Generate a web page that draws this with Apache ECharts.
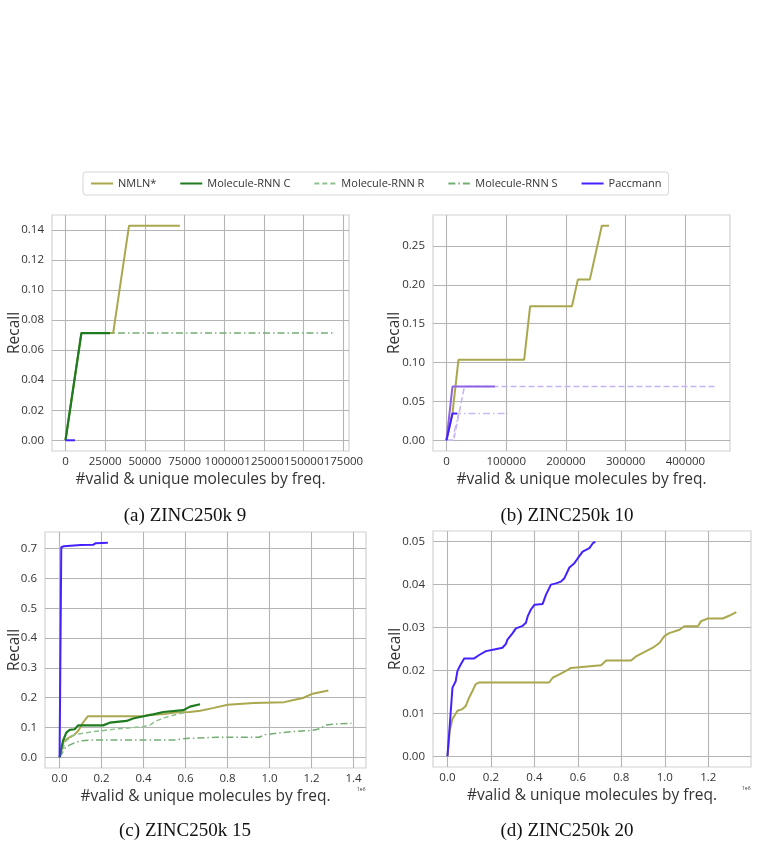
<!DOCTYPE html>
<html>
<head>
<meta charset="utf-8">
<script src="https://cdn.jsdelivr.net/npm/echarts@6/dist/echarts.min.js"></script>
<style>
html,body{margin:0;padding:0;background:#fff;}
#main{width:758px;height:846px;}
</style>
</head>
<body>
<div id="main"></div>
<script>
// legend names
var names = ['NMLN*', 'Molecule-RNN C', 'Molecule-RNN R', 'Molecule-RNN S', 'Paccmann'];

// (a) ZINC250k 9
var a_nmln = [[0,0],[10000,0.0714],[30000,0.0714],[40000,0.1429],[72000,0.1429]];
var a_rnnR = [[0,0],[10000,0.0714],[25000,0.0714]];
var a_rnnS = [[0,0],[10000,0.0714],[170000,0.0714]];
var a_rnnC = [[0,0],[10000,0.0714],[28000,0.0714]];
var a_pacc = [[0,0],[6000,0]];
var a_xticks = [0,25000,50000,75000,100000,125000,150000,175000];
var a_yticks = [0,0.02,0.04,0.06,0.08,0.10,0.12,0.14];

// (b) ZINC250k 10
var b_nmln = [[0,0],[10000,0.0345],[20000,0.1034],[130000,0.1034],[140000,0.1724],[210000,0.1724],[220000,0.2069],[240000,0.2069],[260000,0.2759],[272000,0.2759]];
var b_rnnR = [[0,0],[12000,0],[30000,0.069],[452000,0.069]];
var b_rnnS = [[0,0],[10000,0],[20000,0.0345],[103000,0.0345]];
var b_rnnC = [[0,0],[10000,0.069],[81000,0.069]];
var b_pacc = [[0,0],[10000,0.0345],[18000,0.0345]];
var b_xticks = [0,100000,200000,300000,400000];
var b_yticks = [0,0.05,0.10,0.15,0.20,0.25];

// (c) ZINC250k 15  (x in 1e6)
var c_nmln = [[0,0],[0.02,0.055],[0.05,0.068],[0.07,0.075],[0.09,0.09],[0.11,0.115],[0.135,0.138],[0.40,0.138],[0.42,0.142],[0.50,0.145],[0.55,0.15],[0.62,0.152],[0.67,0.156],[0.73,0.165],[0.80,0.176],[0.925,0.182],[1.07,0.185],[1.12,0.193],[1.16,0.199],[1.20,0.212],[1.24,0.218],[1.28,0.224]];
var c_rnnR = [[0,0],[0.03,0.055],[0.07,0.076],[0.15,0.085],[0.27,0.095],[0.40,0.103],[0.43,0.108],[0.46,0.122],[0.50,0.133],[0.55,0.143],[0.60,0.150]];
var c_rnnS = [[0,0],[0.03,0.035],[0.06,0.045],[0.10,0.055],[0.15,0.058],[0.55,0.058],[0.60,0.063],[0.75,0.067],[0.95,0.067],[0.98,0.076],[1.10,0.086],[1.20,0.090],[1.23,0.094],[1.27,0.108],[1.30,0.111],[1.39,0.114]];
var c_rnnC = [[0,0],[0.016,0.055],[0.032,0.083],[0.048,0.092],[0.072,0.094],[0.088,0.107],[0.207,0.107],[0.239,0.116],[0.319,0.122],[0.350,0.130],[0.382,0.135],[0.446,0.144],[0.494,0.152],[0.589,0.158],[0.621,0.170],[0.669,0.178]];
var c_pacc = [[0,0],[0.008,0.705],[0.02,0.708],[0.10,0.712],[0.16,0.713],[0.17,0.718],[0.23,0.72]];
var c_xticks = [0,0.2,0.4,0.6,0.8,1.0,1.2,1.4];
var c_yticks = [0,0.1,0.2,0.3,0.4,0.5,0.6,0.7];

// (d) ZINC250k 20  (x in 1e6)
var d_nmln = [[0,0],[0.011,0.006],[0.023,0.0087],[0.046,0.0106],[0.069,0.011],[0.084,0.0117],[0.10,0.0137],[0.115,0.0152],[0.13,0.0168],[0.146,0.0172],[0.468,0.0172],[0.484,0.0183],[0.515,0.0191],[0.545,0.0199],[0.568,0.0206],[0.707,0.0212],[0.73,0.0223],[0.845,0.0223],[0.868,0.0233],[0.914,0.0245],[0.945,0.0253],[0.975,0.0264],[0.998,0.028],[1.02,0.0287],[1.068,0.0295],[1.09,0.0303],[1.152,0.0303],[1.167,0.0315],[1.198,0.0321],[1.267,0.0321],[1.298,0.0328],[1.329,0.0336]];
var d_pacc = [[0,0],[0.011,0.0075],[0.023,0.016],[0.038,0.0175],[0.046,0.0199],[0.061,0.0214],[0.077,0.0228],[0.123,0.0228],[0.146,0.0236],[0.177,0.0245],[0.215,0.0249],[0.253,0.0253],[0.269,0.0262],[0.276,0.0272],[0.30,0.0287],[0.315,0.0298],[0.346,0.0304],[0.361,0.0311],[0.369,0.0326],[0.384,0.0342],[0.40,0.0353],[0.438,0.0355],[0.453,0.0376],[0.476,0.040],[0.499,0.0403],[0.522,0.0407],[0.538,0.0415],[0.561,0.044],[0.584,0.045],[0.599,0.0461],[0.622,0.0477],[0.653,0.0485],[0.668,0.0496],[0.68,0.050]];
var d_xticks = [0,0.2,0.4,0.6,0.8,1.0,1.2];
var d_yticks = [0,0.01,0.02,0.03,0.04,0.05];

var myChart = echarts.init(document.getElementById('main'));

var FONT = 'Open Sans';
var TXT = '#333333';
var colNmln = '#a9a84e', colC = '#1f7b1f', colR = '#8fc08f', colS = '#74ad74', colPacc = '#4422ff';
var purC = '#8e62e6', purR = '#c6b2f3', purS = '#cbb9f3';
var CAP = '19px "Liberation Serif"';

function mkGrid(l, t, w, h){
	return {left:l, top:t, width:w, height:h, show:true, borderColor:'#d2d2d2', borderWidth:1.2, backgroundColor:'#fff'};
}
function mkX(idx, min, max, ticks, dec, gap){
	return {
		type:'value', gridIndex:idx, min:min, max:max,
		name:'#valid & unique molecules by freq.', nameLocation:'middle', nameGap:gap,
		nameTextStyle:{fontFamily:FONT, fontSize:15.5, color:TXT},
		axisLine:{show:false}, axisTick:{show:false, customValues:ticks},
		axisLabel:{customValues:ticks, fontFamily:FONT, fontSize:11.5, color:TXT, margin:5,
			formatter:function(v){ return dec < 0 ? String(Math.round(v)) : v.toFixed(dec); }},
		splitLine:{show:true, lineStyle:{color:'#b4b4b4', width:1.1}}
	};
}
function mkY(idx, min, max, ticks, dec, gap){
	return {
		type:'value', gridIndex:idx, min:min, max:max,
		name:'Recall', nameLocation:'middle', nameGap:gap, nameRotate:90, nameMoveOverlap:false,
		nameTextStyle:{fontFamily:FONT, fontSize:15.5, color:TXT},
		axisLine:{show:false}, axisTick:{show:false, customValues:ticks},
		axisLabel:{customValues:ticks, fontFamily:FONT, fontSize:11.5, color:TXT, margin:8,
			formatter:function(v){ return v.toFixed(dec); }},
		splitLine:{show:true, lineStyle:{color:'#b4b4b4', width:1.1}}
	};
}
function ln(name, idx, data, color, width, type){
	return {
		name:name, type:'line', xAxisIndex:idx, yAxisIndex:idx, data:data,
		symbol:'none', showSymbol:false, silent:true, animation:false,
		lineStyle:{color:color, width:width, type:type || 'solid'},
		itemStyle:{color:color}
	};
}
var dashR = [5,3], dashS = [7,3,1.5,3];

var option = {
	backgroundColor:'#fff',
	animation:false,
	legend:{
		data:names, top:172, left:83,
		itemWidth:22, itemHeight:10, itemGap:23,
		padding:[6,7], borderColor:'#d6d6d6', borderWidth:1, borderRadius:3,
		itemStyle:{opacity:0},
		textStyle:{fontFamily:FONT, fontSize:11, color:TXT}
	},
	grid:[
		mkGrid(52, 215, 297, 236),
		mkGrid(433, 215, 297, 236),
		mkGrid(45, 532, 321, 236),
		mkGrid(433, 531, 318, 236)
	],
	xAxis:[
		mkX(0, -8500, 178500, a_xticks, -1, 21),
		mkX(1, -22600, 474600, b_xticks, -1, 21),
		mkX(2, -0.0695, 1.4595, c_xticks, 1, 21),
		mkX(3, -0.0665, 1.3965, d_xticks, 1, 21)
	],
	yAxis:[
		mkY(0, -0.00714, 0.15, a_yticks, 2, 29),
		mkY(1, -0.0138, 0.2897, b_yticks, 2, 30),
		mkY(2, -0.036, 0.756, c_yticks, 1, 22),
		mkY(3, -0.0025, 0.0525, d_yticks, 2, 29)
	],
	series:[
		ln('NMLN*', 0, a_nmln, colNmln, 2),
		ln('Molecule-RNN R', 0, a_rnnR, colR, 1.5, dashR),
		ln('Molecule-RNN S', 0, a_rnnS, colS, 1.5, dashS),
		ln('Molecule-RNN C', 0, a_rnnC, colC, 2.2),
		ln('Paccmann', 0, a_pacc, colPacc, 2),

		ln('NMLN*', 1, b_nmln, colNmln, 2),
		ln('Molecule-RNN R', 1, b_rnnR, purR, 1.5, [6,3]),
		ln('Molecule-RNN S', 1, b_rnnS, purS, 1.5, dashS),
		ln('Molecule-RNN C', 1, b_rnnC, purC, 2),
		ln('Paccmann', 1, b_pacc, colPacc, 2),

		ln('NMLN*', 2, c_nmln, colNmln, 2),
		ln('Molecule-RNN R', 2, c_rnnR, colR, 1.5, dashR),
		ln('Molecule-RNN S', 2, c_rnnS, colS, 1.5, dashS),
		ln('Molecule-RNN C', 2, c_rnnC, colC, 2.2),
		ln('Paccmann', 2, c_pacc, colPacc, 2),

		ln('NMLN*', 3, d_nmln, colNmln, 2),
		ln('Paccmann', 3, d_pacc, colPacc, 2)
	],
	graphic:[
		{type:'text', x:185, y:507, style:{text:'(a) ZINC250k 9', font:CAP, fill:'#111', textAlign:'center'}},
		{type:'text', x:567, y:507, style:{text:'(b) ZINC250k 10', font:CAP, fill:'#111', textAlign:'center'}},
		{type:'text', x:185, y:822, style:{text:'(c) ZINC250k 15', font:CAP, fill:'#111', textAlign:'center'}},
		{type:'text', x:567, y:822, style:{text:'(d) ZINC250k 20', font:CAP, fill:'#111', textAlign:'center'}},
		{type:'text', x:357, y:787, style:{text:'1e6', font:'5px "Open Sans"', fill:TXT}},
		{type:'text', x:742, y:786, style:{text:'1e6', font:'5px "Open Sans"', fill:TXT}}
	]
};
myChart.setOption(option);
</script>
</body>
</html>
